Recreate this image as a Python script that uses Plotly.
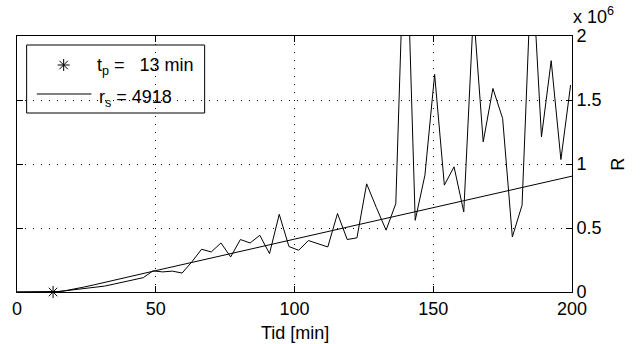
import plotly.graph_objects as go

# ---- data ----
t_min = [0, 3.5, 7, 10.5, 14, 17.5, 21, 24.5, 28, 31.5, 35, 38.5, 42, 45.5, 49, 52.5, 56, 59.5,
         63, 66.5, 70, 73.5, 77, 80.5, 84, 87.5, 91, 94.5, 98, 101.5, 105, 108.5, 112, 115.5,
         119, 122.5, 126, 129.5, 133, 136.5, 140, 143.5, 147, 150.5, 154, 157.5, 161, 164.5,
         168, 171.5, 175, 178.5, 182, 185.5, 189, 192.5, 196, 199.5]
R_meas = [0, 0, 0, 0, 0.002, 0.010, 0.019, 0.027, 0.036, 0.046, 0.062, 0.078, 0.095, 0.112,
          0.165, 0.157, 0.163, 0.148, 0.235, 0.334, 0.313, 0.383, 0.274, 0.410, 0.383, 0.443,
          0.300, 0.607, 0.355, 0.326, 0.402, 0.375, 0.352, 0.613, 0.410, 0.423, 0.845, 0.660,
          0.483, 0.690, 3.100, 0.560, 0.913, 1.700, 0.835, 0.978, 0.626, 2.200, 1.173, 1.590,
          1.356, 0.430, 0.678, 2.600, 1.212, 1.807, 1.035, 1.617]  # x 1e6

t_fit = [0, 13, 15, 17, 19, 21, 24, 28, 35, 50, 100, 150, 200]
R_fit = [0, 0, 0.0025, 0.0085, 0.016, 0.025, 0.038, 0.057, 0.091, 0.167, 0.413, 0.659, 0.905]  # x 1e6

t_p = 13
r_s = 4918

x_ticks = [0, 50, 100, 150, 200]
y_ticks = [0, 0.5, 1, 1.5, 2]
y_ticklabels = ["0", "0.5", "1", "1.5", "2"]
SCALE = 1e6

FONT = "Liberation Sans, Arial, Helvetica, sans-serif"
FS = 18

# ---- layout geometry (pixels) ----
W, H = 640, 344
ML, MR, MT, MB = 13, 68, 36, 52
PW, PH = W - ML - MR, H - MT - MB


def px(xp):
    return (xp - ML) / PW


def py(yp):
    return (H - MB - yp) / PH


fig = go.Figure()
fig.add_trace(go.Scatter(x=t_min, y=[v * SCALE for v in R_meas], mode="lines",
                         line=dict(color="black", width=1), showlegend=False))
fig.add_trace(go.Scatter(x=t_fit, y=[v * SCALE for v in R_fit], mode="lines",
                         line=dict(color="black", width=1), showlegend=False))
fig.add_trace(go.Scatter(x=[t_p], y=[0], mode="markers", cliponaxis=False,
                         marker=dict(symbol="asterisk-open", size=10, color="black",
                                     line=dict(color="black", width=1)),
                         showlegend=False))
# legend sample star on an overlay axis in [0,1] paper-like space
fig.add_trace(go.Scatter(x=[px(60)], y=[py(65)], mode="markers", xaxis="x2", yaxis="y2",
                         cliponaxis=False,
                         marker=dict(symbol="asterisk-open", size=10, color="black",
                                     line=dict(color="black", width=1)),
                         showlegend=False))

grid_dash = "1px,7px"
fig.update_layout(
    width=W, height=H,
    margin=dict(l=ML, r=MR, t=MT, b=MB),
    paper_bgcolor="white", plot_bgcolor="white",
    font=dict(family=FONT, size=FS, color="black"),
    showlegend=False,
    xaxis=dict(range=[0, 200], tickvals=x_ticks, ticks="inside", ticklen=6, tickcolor="black",
               showline=True, linecolor="black", linewidth=1, mirror="ticks",
               showgrid=True, gridcolor="black", gridwidth=1, griddash=grid_dash,
               zeroline=False, tickfont=dict(size=FS)),
    yaxis=dict(range=[0, 2 * SCALE], side="right", tickvals=[v * SCALE for v in y_ticks],
               ticktext=y_ticklabels, ticks="inside", ticklen=6, tickcolor="black",
               showline=True, linecolor="black", linewidth=1, mirror="ticks",
               showgrid=True, gridcolor="black", gridwidth=1, griddash=grid_dash,
               zeroline=False, tickfont=dict(size=FS)),
    xaxis2=dict(range=[0, 1], overlaying="x", visible=False, fixedrange=True),
    yaxis2=dict(range=[0, 1], overlaying="y", visible=False, fixedrange=True),
    shapes=[
        dict(type="rect", xref="paper", yref="paper", x0=px(22.7), x1=px(202),
             y0=py(113), y1=py(45), line=dict(color="black", width=1), fillcolor="white",
             layer="between"),
        dict(type="line", xref="paper", yref="paper", x0=px(33), x1=px(88),
             y0=py(94), y1=py(94), line=dict(color="black", width=1), layer="above"),
    ],
    annotations=[
        dict(text="t<sub>p</sub> =&nbsp;&nbsp; %d min" % t_p, xref="paper", yref="paper",
             x=px(92), y=py(66), xanchor="left", yanchor="middle", showarrow=False,
             font=dict(size=FS)),
        dict(text="r<sub>s</sub> = %d" % r_s, xref="paper", yref="paper",
             x=px(94), y=py(98), xanchor="left", yanchor="middle", showarrow=False,
             font=dict(size=FS)),
        dict(text="x 10<sup>6</sup>", xref="paper", yref="paper", x=px(571), y=py(29),
             xanchor="left", yanchor="bottom", showarrow=False, font=dict(size=FS)),
        dict(text="R", xref="paper", yref="paper", x=px(618), y=py(164), textangle=-90,
             xanchor="center", yanchor="middle", showarrow=False, font=dict(size=FS)),
        dict(text="Tid [min]", xref="paper", yref="paper", x=px(293), y=py(333),
             xanchor="center", yanchor="middle", showarrow=False, font=dict(size=FS)),
    ],
)

fig.write_html("out.html", config={"displayModeBar": False},
               post_script="document.body.style.margin='0';document.body.style.padding='0';")
